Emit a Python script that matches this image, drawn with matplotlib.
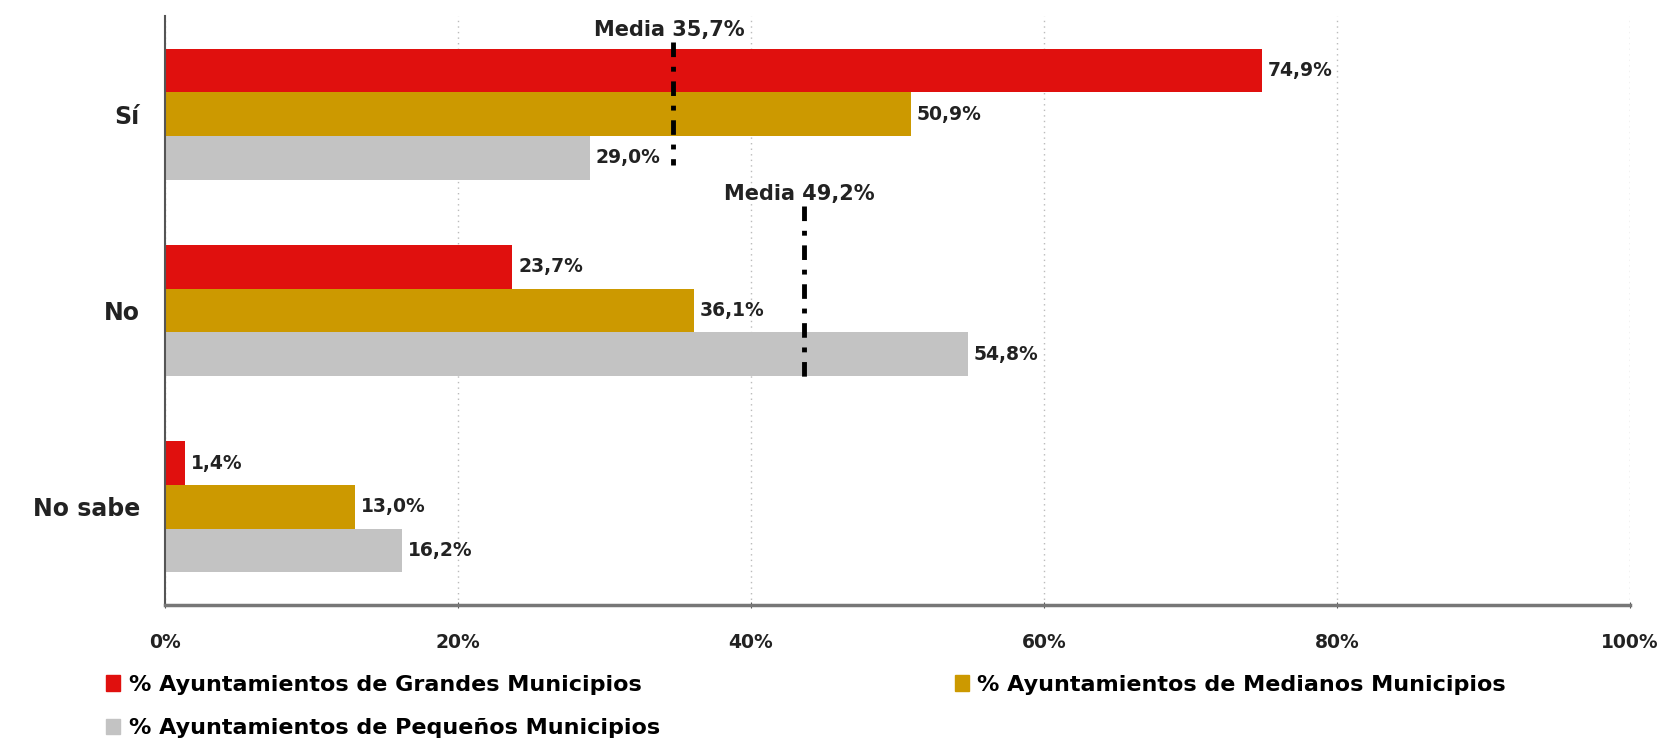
import numpy as np
import matplotlib.pyplot as plt
from matplotlib.patches import Patch

# datos
categorias = ["Sí", "No", "No sabe"]
grandes = [74.9, 23.7, 1.4]
medianos = [50.9, 36.1, 13.0]
pequenos = [29.0, 54.8, 16.2]
series = ["% Ayuntamientos de Grandes Municipios",
          "% Ayuntamientos de Medianos Municipios",
          "% Ayuntamientos de Pequeños Municipios"]
colores = ["#E0100E", "#CC9900", "#C3C3C3"]

# líneas de media (posición dibujada y texto)
media_pos = [34.7, 43.6]
media_txt = ["Media 35,7%", "Media 49,2%"]
media_cat = [0, 1]

xticks = [0, 20, 40, 60, 80, 100]

plt.rcParams['font.family'] = ['DejaVu Sans']

fig = plt.figure(figsize=(16.71, 7.5), dpi=100)
ax = fig.add_axes([0.0987, 0.1933, 0.8768, 0.7854])

y = np.arange(len(categorias))
h = 0.222
valores = [grandes, medianos, pequenos]
for i, (vals, col) in enumerate(zip(valores, colores)):
    pos = y + (i - 1) * h
    ax.barh(pos, vals, height=h, color=col, zorder=2)
    for p, v in zip(pos, vals):
        ax.text(v + 0.4, p, f"{v:.1f}%".replace(".", ","), va="center", ha="left",
                fontsize=13.5, fontweight="bold", color="#222222", zorder=4)

# medias (los extremos de cada línea varían en el original)
extremos = [(-0.37, 0.26), (-0.53, 0.38)]
for xm, txt, c, (y0, y1) in zip(media_pos, media_txt, media_cat, extremos):
    ax.plot([xm, xm], [c + y0, c + y1], color="black", lw=3.5,
            linestyle=(0, (3, 2, 1, 2)), zorder=3)
    ax.text(xm - 0.3, c + y0 - 0.01, txt, ha="center", va="bottom", fontsize=15,
            fontweight="bold", color="#222222", zorder=4)

ax.set_xlim(0, 100)
ax.set_ylim(2.5, -0.5)
ax.set_xticks(xticks)
ax.set_xticklabels([f"{t}%" for t in xticks], fontsize=13.5, fontweight="bold", color="#222222")
ax.set_yticks(y)
ax.set_yticklabels(categorias, fontsize=17, fontweight="bold", color="#222222")
ax.tick_params(axis="y", length=0, pad=18)
ax.tick_params(axis="x", length=5, direction="inout", color="#555555", pad=18)

ax.grid(axis="x", linestyle=(0, (1, 3)), color="#BBBBBB", lw=1, zorder=0)
for s in ["top", "right"]:
    ax.spines[s].set_visible(False)
ax.spines["left"].set_color("#555555")
ax.spines["left"].set_linewidth(1.5)
ax.spines["bottom"].set_color("#777777")
ax.spines["bottom"].set_linewidth(2.5)

handles = [Patch(color=c) for c in colores]
orden = [0, 2, 1]
fig.legend([handles[i] for i in orden], [series[i] for i in orden],
           loc="upper left", bbox_to_anchor=(0.057, 0.115), ncol=2, frameon=False,
           handlelength=0.6, handleheight=0.7, handletextpad=0.4,
           columnspacing=13.3, labelspacing=1.05, borderpad=0,
           prop={"weight": "bold", "size": 16})

fig.savefig("out.png", dpi=100, facecolor="white")
